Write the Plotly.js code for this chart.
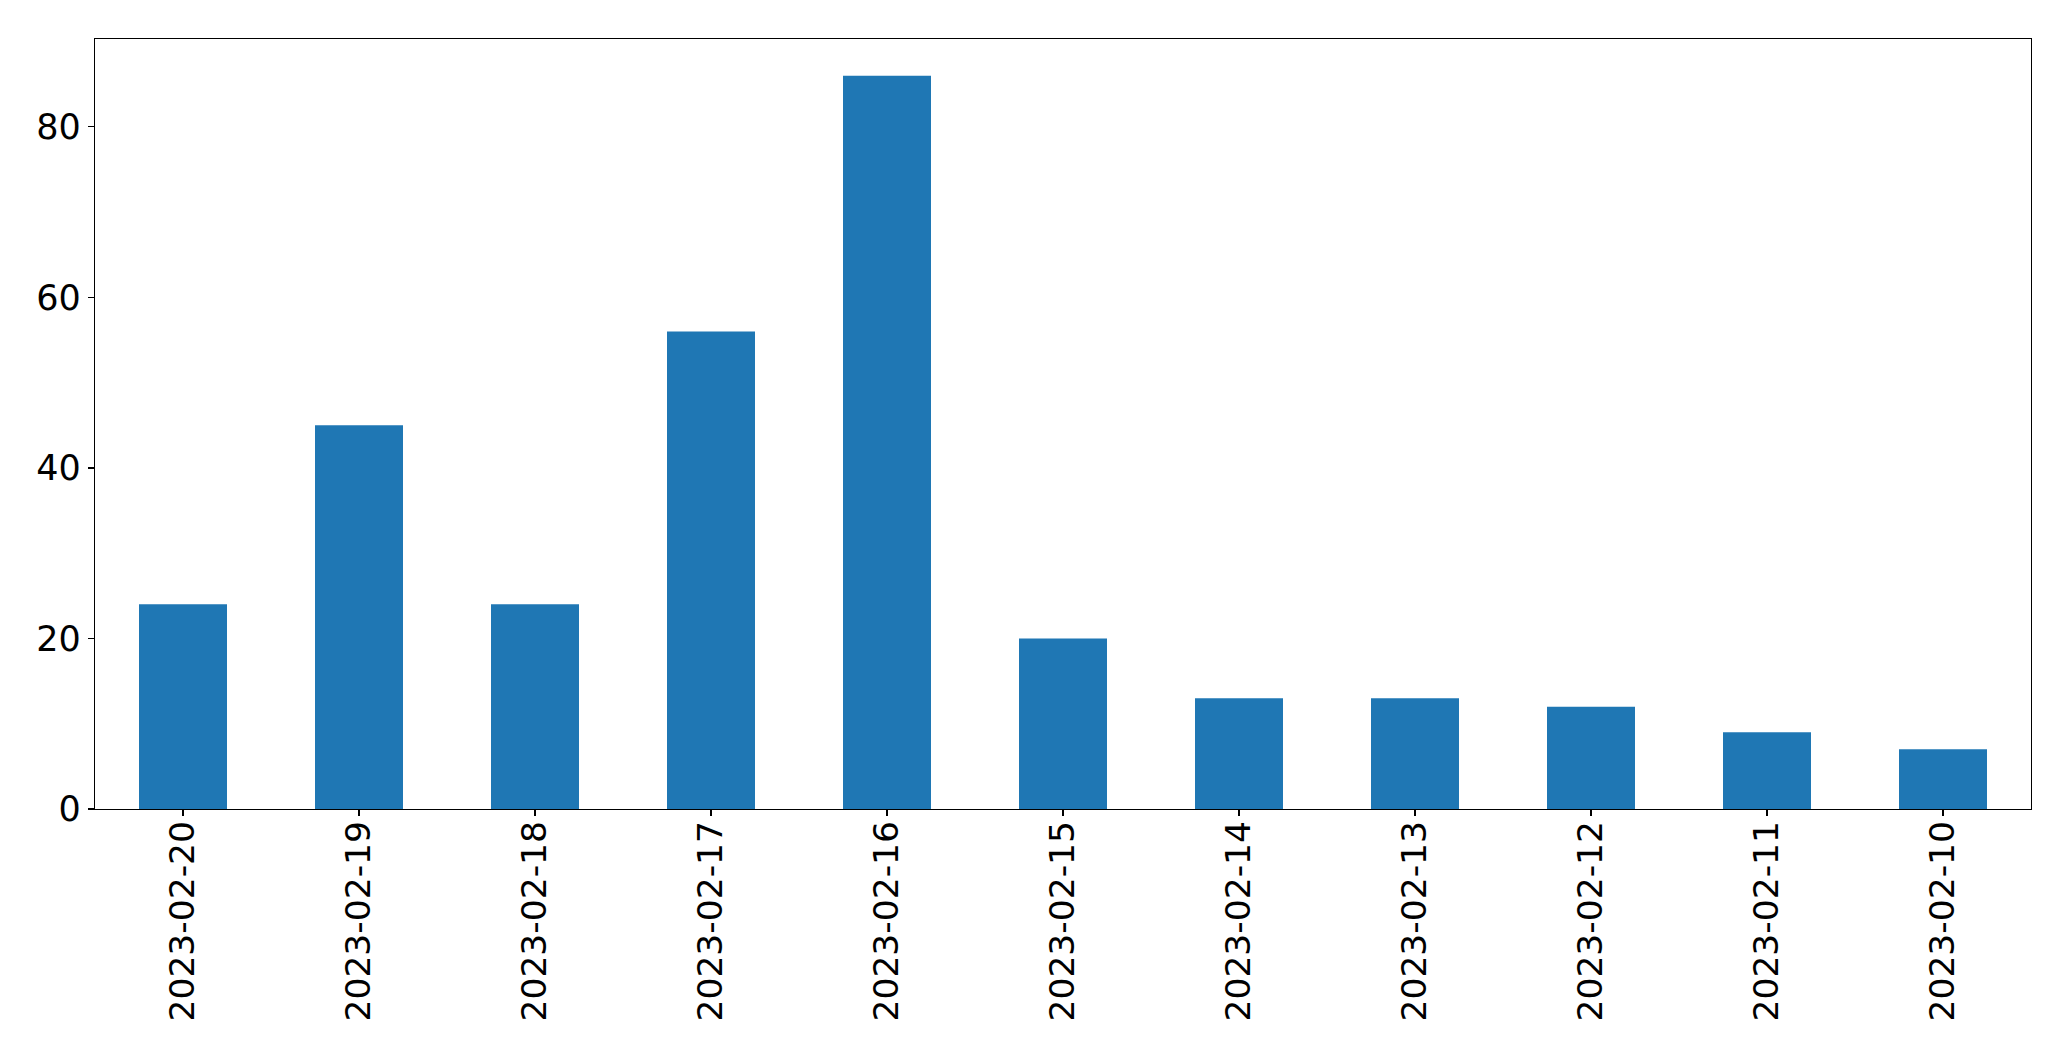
<!DOCTYPE html>
<html>
<head>
<meta charset="utf-8">
<script src="https://cdn.plot.ly/plotly-3.0.1.min.js"></script>
<style>html,body{margin:0;padding:0;background:#fff;}#chart{width:2071px;height:1061px;}</style>
</head>
<body>
<div id="chart"></div>
<script>
const dates = ["2023-02-20","2023-02-19","2023-02-18","2023-02-17","2023-02-16","2023-02-15","2023-02-14","2023-02-13","2023-02-12","2023-02-11","2023-02-10"];
const counts = [24, 45, 24, 56, 86, 20, 13, 13, 12, 9, 7];
const yTicks = [0, 20, 40, 60, 80];

const trace = {
  type: "bar",
  x: dates,
  y: counts,
  width: 0.5,
  marker: {color: "#1f77b4", line: {width: 0}},
  hoverinfo: "x+y"
};

const maxVal = Math.max(...counts);
const layout = {
  width: 2071,
  height: 1061,
  margin: {l: 95, r: 40, t: 39, b: 252},
  paper_bgcolor: "#fff",
  plot_bgcolor: "#fff",
  showlegend: false,
  font: {family: "DejaVu Sans", size: 35, color: "#000"},
  xaxis: {
    type: "category",
    range: [-0.5, dates.length - 0.5],
    tickangle: -90,
    showline: true,
    mirror: true,
    linecolor: "#000",
    linewidth: 1.2,
    ticks: "outside",
    ticklen: 6,
    tickwidth: 1.2,
    tickcolor: "#000",
    showgrid: false,
    zeroline: false,
    ticklabelstandoff: -9,
    tickfont: {family: "DejaVu Sans", size: 34.5, color: "#000"}
  },
  yaxis: {
    range: [0, maxVal * 1.05],
    tickvals: yTicks,
    ticktext: yTicks.map(String),
    showline: true,
    mirror: true,
    linecolor: "#000",
    linewidth: 1.2,
    ticks: "outside",
    ticklen: 6,
    tickwidth: 1.2,
    tickcolor: "#000",
    showgrid: false,
    zeroline: false,
    tickfont: {family: "DejaVu Sans", size: 35, color: "#000"}
  }
};

Plotly.newPlot("chart", [trace], layout, {displayModeBar: false, staticPlot: true});
</script>
</body>
</html>
